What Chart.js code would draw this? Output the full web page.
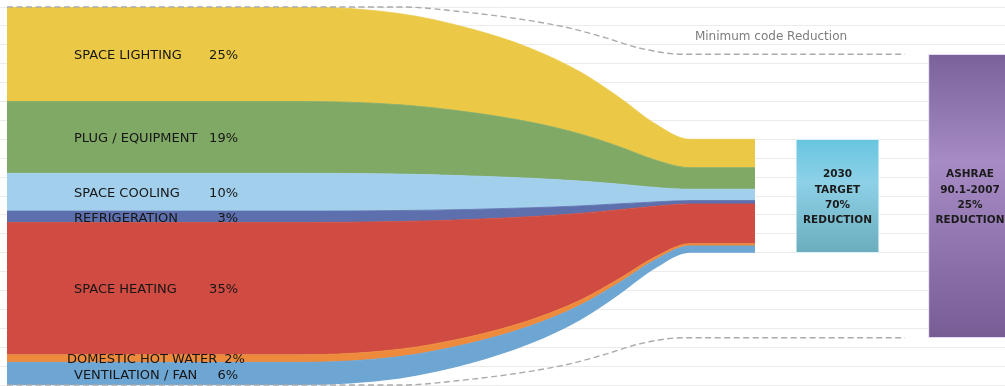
<!DOCTYPE html>
<html>
<head>
<meta charset="utf-8">
<style>
  html, body { margin: 0; padding: 0; background: #ffffff; }
  #wrap { width: 1005px; height: 386px; }
</style>
<script src="https://cdn.jsdelivr.net/npm/chart.js@4/dist/chart.umd.min.js"></script>
</head>
<body>
<div id="wrap"><canvas id="flow" width="1005" height="386"></canvas></div>
<script>
// End uses of building energy, top of the stack first
const categories = ['SPACE LIGHTING', 'PLUG / EQUIPMENT', 'SPACE COOLING', 'REFRIGERATION',
                    'SPACE HEATING', 'DOMESTIC HOT WATER', 'VENTILATION / FAN'];
const shareLabels = ['25%', '19%', '10%', '3%', '35%', '2%', '6%'];
const currentUse = [25, 19, 10, 3, 35, 2, 6];
const bandColors = ['#EBC947', '#80A966', '#A2CFEC', '#5D70AD', '#D04B41', '#EE8A3C', '#6DA5D3'];

// Stations along the flow (horizontal axis)
const flowStations = [7, 300, 400, 470, 530, 580, 620, 655, 690, 755];
// Share of each end use at every station, from today's use to the 2030 target
const lightingFlow    = [25, 25, 24.1, 22.15, 19.56, 16.43, 12.96, 9.58, 7.5, 7.5];
const plugFlow        = [19, 19, 18.34, 16.83, 14.86, 12.48, 9.85, 7.28, 5.7, 5.7];
const coolingFlow     = [10, 10, 9.65, 8.86, 7.82, 6.57, 5.18, 3.83, 3.0, 3.0];
const refrigFlow      = [3, 3, 2.9, 2.66, 2.35, 1.97, 1.56, 1.15, 0.9, 0.9];
const heatingFlow     = [35, 35, 33.78, 31.0, 27.38, 23.0, 18.14, 13.42, 10.5, 10.5];
const hotWaterFlow    = [2, 2, 1.93, 1.77, 1.56, 1.31, 1.04, 0.77, 0.6, 0.6];
const ventilationFlow = [6, 6, 5.79, 5.32, 4.69, 3.94, 3.11, 2.3, 1.8, 1.8];
// Empty space under the narrowing stack
const baseOffset = [0, 0, 1.75, 5.7, 10.9, 17.15, 24.1, 30.8, 35, 35];
const bandFlows = [lightingFlow, plugFlow, coolingFlow, refrigFlow, heatingFlow, hotWaterFlow, ventilationFlow];

// Minimum code reduction envelope
const codeStations = [7, 400, 470, 530, 570, 605, 640, 683, 905];
const codeUpper = [100, 100, 98.5, 96.4, 94.4, 91.9, 89.1, 87.5, 87.5];
const codeLower = [0, 0, 1.5, 3.6, 5.6, 8.1, 10.9, 12.5, 12.5];

// Summary boxes
const targetRange = [35, 65];
const codeRange = [12.5, 87.5];
const targetText = ['2030', 'TARGET', '70%', 'REDUCTION'];
const codeText = ['ASHRAE', '90.1-2007', '25%', 'REDUCTION'];
const boxCenters = [837.5, 970];
const codeCaption = 'Minimum code Reduction';

const FONT = '"DejaVu Sans", "Liberation Sans", sans-serif';
const toPoints = (xs, ys) => xs.map((x, i) => ({ x: x, y: ys[i] }));

// Stack is built bottom-up: invisible offset first, then end uses from the bottom
const datasets = [{
  label: 'offset',
  data: toPoints(flowStations, baseOffset),
  borderWidth: 0,
  pointRadius: 0,
  fill: false,
  cubicInterpolationMode: 'monotone',
  yAxisID: 'y',
  order: 5
}];
for (let i = categories.length - 1; i >= 0; i--) {
  datasets.push({
    label: categories[i],
    data: toPoints(flowStations, bandFlows[i]),
    backgroundColor: bandColors[i],
    borderColor: bandColors[i],
    borderWidth: 0.8,
    pointRadius: 0,
    fill: '-1',
    cubicInterpolationMode: 'monotone',
    yAxisID: 'y',
    order: 5
  });
}

const dashStyle = {
  type: 'line',
  borderColor: '#ababab',
  borderWidth: 1.4,
  borderDash: [6, 3.5],
  pointRadius: 0,
  fill: false,
  cubicInterpolationMode: 'monotone',
  yAxisID: 'yRef',
  clip: 4,
  order: -2
};
datasets.push(Object.assign({ label: 'code upper', data: toPoints(codeStations, codeUpper) }, dashStyle));
datasets.push(Object.assign({ label: 'code lower', data: toPoints(codeStations, codeLower) }, dashStyle));

function boxGradient(range, stops) {
  return (context) => {
    const chart = context.chart;
    if (!chart.chartArea) return stops[1];
    const s = chart.scales.yRef;
    const top = s.getPixelForValue(range[1]);
    const bottom = s.getPixelForValue(range[0]);
    const g = chart.ctx.createLinearGradient(0, top, 0, bottom);
    g.addColorStop(0, stops[0]);
    g.addColorStop(0.38, stops[1]);
    g.addColorStop(1, stops[2]);
    return g;
  };
}

datasets.push({
  type: 'bar',
  label: 'target',
  data: [{ x: boxCenters[0], y: targetRange }],
  backgroundColor: boxGradient(targetRange, ['#68c5e0', '#8dd1e7', '#6badbd']),
  borderColor: 'rgba(215,240,248,0.9)',
  borderWidth: 1,
  borderSkipped: false,
  barThickness: 83,
  grouped: false,
  yAxisID: 'yRef',
  order: -1,
  lines: targetText
});
datasets.push({
  type: 'bar',
  label: 'code',
  data: [{ x: boxCenters[1], y: codeRange }],
  backgroundColor: boxGradient(codeRange, ['#7a6299', '#a68bc5', '#785c94']),
  borderColor: 'rgba(225,215,238,0.9)',
  borderWidth: 1,
  borderSkipped: false,
  barThickness: 83,
  grouped: false,
  yAxisID: 'yRef',
  order: -1,
  lines: codeText
});

// Text drawn on top of the flows and boxes
const flowLabels = {
  id: 'flowLabels',
  afterDatasetsDraw(chart) {
    const { ctx, scales } = chart;
    const y = scales.y, x = scales.x;
    ctx.save();
    ctx.textBaseline = 'middle';

    // End-use names with their shares, on the left column
    ctx.font = '13px ' + FONT;
    ctx.fillStyle = '#161616';
    const nameLeft = x.getPixelForValue(74);
    const shareRight = x.getPixelForValue(238);
    const labelMid = x.getPixelForValue(156);
    for (let i = 0; i < categories.length; i++) {
      let below = 0;
      for (let j = i + 1; j < categories.length; j++) below += currentUse[j];
      const py = y.getPixelForValue(below + currentUse[i] / 2) + 1.5;
      const nw = ctx.measureText(categories[i]).width;
      const sw = ctx.measureText(shareLabels[i]).width;
      if (nameLeft + nw + 8 > shareRight - sw) {
        const total = nw + 7 + sw;
        const start = labelMid - total / 2;
        ctx.textAlign = 'left';
        ctx.fillText(categories[i], start, py);
        ctx.fillText(shareLabels[i], start + nw + 7, py);
      } else {
        ctx.textAlign = 'left';
        ctx.fillText(categories[i], nameLeft, py);
        ctx.textAlign = 'right';
        ctx.fillText(shareLabels[i], shareRight, py);
      }
    }

    // Caption above the code envelope
    ctx.font = '12px ' + FONT;
    ctx.fillStyle = '#7d7d7d';
    ctx.textAlign = 'center';
    ctx.fillText(codeCaption, x.getPixelForValue(771), scales.yRef.getPixelForValue(codeUpper[codeUpper.length - 1]) - 17.5);

    // Box captions
    ctx.font = 'bold 10.5px ' + FONT;
    ctx.fillStyle = '#1b1b1b';
    chart.data.datasets.forEach((ds, di) => {
      if (!ds.lines) return;
      const el = chart.getDatasetMeta(di).data[0];
      if (!el) return;
      const cy = (el.y + el.base) / 2 + 1.5;
      const lh = 15.3;
      ds.lines.forEach((t, k) => {
        ctx.fillText(t, el.x, cy + (k - (ds.lines.length - 1) / 2) * lh);
      });
    });
    ctx.restore();
  }
};

new Chart(document.getElementById('flow'), {
  type: 'line',
  data: { datasets: datasets },
  options: {
    responsive: false,
    animation: false,
    layout: { padding: { top: 7, bottom: 1, left: 0, right: 0 } },
    plugins: { legend: { display: false }, tooltip: { enabled: false } },
    elements: { line: { tension: 0 } },
    scales: {
      x: { type: 'linear', min: 0, max: 1005, offset: false, display: false },
      y: {
        stacked: true,
        min: 0, max: 100,
        ticks: { display: false, stepSize: 5 },
        grid: { color: '#ebebeb', lineWidth: 1, drawTicks: false },
        border: { display: false }
      },
      yRef: { min: 0, max: 100, display: false }
    }
  },
  plugins: [flowLabels]
});
</script>
</body>
</html>
